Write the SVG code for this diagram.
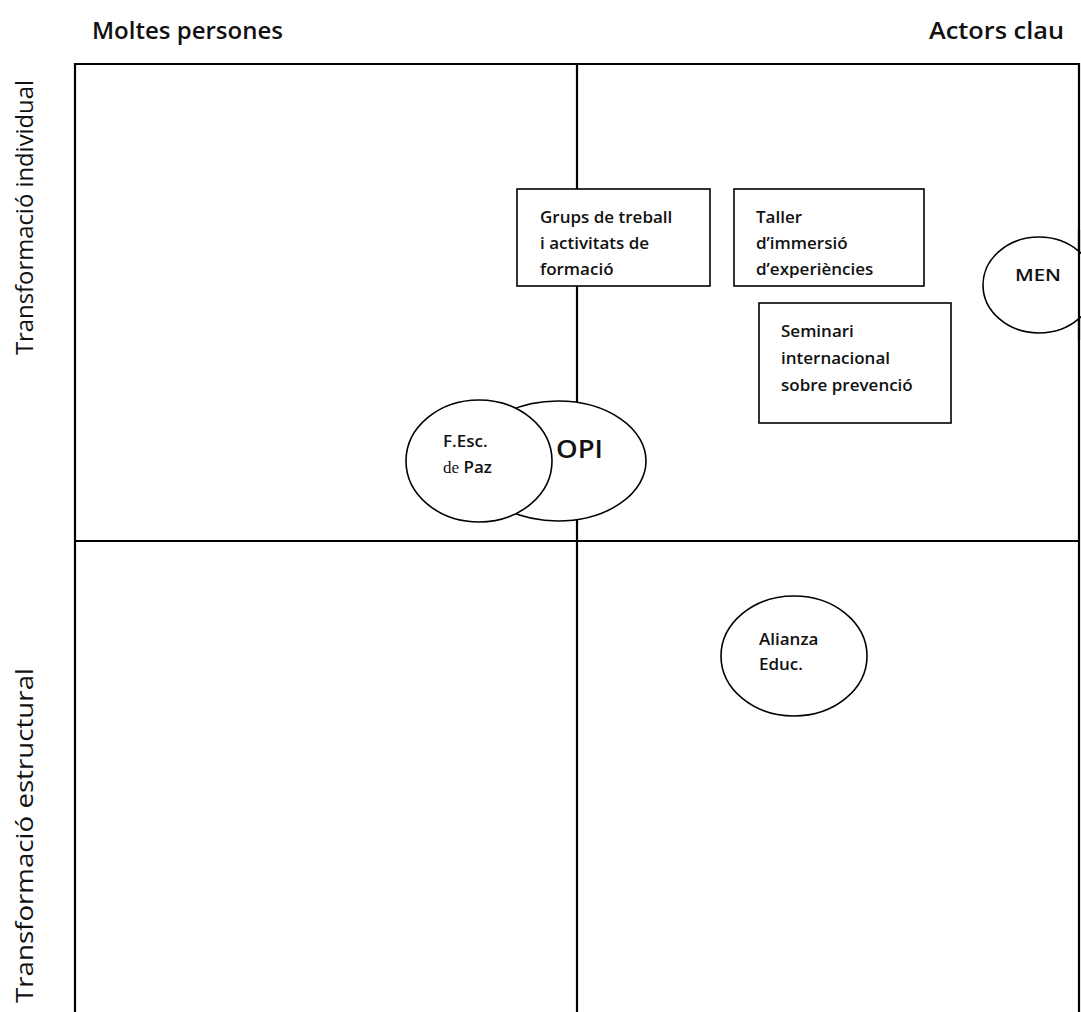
<svg xmlns="http://www.w3.org/2000/svg" width="1081" height="1012" viewBox="0 0 1081 1012">
<style>
  text { font-family: "Open Sans", "Liberation Sans", sans-serif; fill: #111; }
  .hdr { font-size: 23px; font-weight: 600; }
  .side { font-size: 23px; }
  .lbl { font-size: 17px; font-weight: 600; }
  .box { fill: #fff; stroke: #000; stroke-width: 1.6; }
  .ell { fill: #fff; stroke: #000; stroke-width: 1.6; }
  .axis { fill: none; stroke: #000; stroke-width: 2.2; }
  .serif { font-family: "Liberation Serif", serif; font-weight: normal; }
</style>
<defs>
  <clipPath id="c1"><rect x="517" y="189" width="193" height="89"/></clipPath>
  <clipPath id="c2"><rect x="734" y="189" width="190" height="89"/></clipPath>
  <clipPath id="c3"><rect x="759" y="303" width="192" height="118"/></clipPath>
</defs>
<rect width="1081" height="1012" fill="#fff"/>

<g id="headers">
  <text class="hdr" x="92" y="39" textLength="191" lengthAdjust="spacingAndGlyphs">Moltes persones</text>
  <text class="hdr" x="929" y="39" textLength="135" lengthAdjust="spacingAndGlyphs">Actors clau</text>
  <text class="side" transform="translate(33,217.5) rotate(-90)" text-anchor="middle" textLength="275" lengthAdjust="spacingAndGlyphs">Transformació individual</text>
  <text class="side" transform="translate(33,835.5) rotate(-90)" text-anchor="middle" textLength="335" lengthAdjust="spacingAndGlyphs">Transformació estructural</text>
</g>

<g id="connectors">
  <path class="axis" d="M75,1020 V64 H1079 V1020"/>
  <line class="axis" x1="577" y1="64" x2="577" y2="1020"/>
  <line class="axis" x1="75" y1="541" x2="1079" y2="541"/>
</g>

<g id="box-grups">
  <rect class="box" x="517" y="189" width="193" height="97"/>
  <g clip-path="url(#c1)">
    <text class="lbl" x="540" y="223">Grups de treball</text>
    <text class="lbl" x="540" y="249">i activitats de</text>
    <text class="lbl" x="540" y="275">formació</text>
  </g>
</g>

<g id="box-taller">
  <rect class="box" x="734" y="189" width="190" height="97"/>
  <g clip-path="url(#c2)">
    <text class="lbl" x="756" y="223">Taller</text>
    <text class="lbl" x="756" y="249">d’immersió</text>
    <text class="lbl" x="756" y="275">d’experiències</text>
  </g>
</g>

<g id="box-seminari">
  <rect class="box" x="759" y="303" width="192" height="120"/>
  <g clip-path="url(#c3)">
    <text class="lbl" x="781" y="337">Seminari</text>
    <text class="lbl" x="781" y="364">internacional</text>
    <text class="lbl" x="781" y="391">sobre prevenció</text>
  </g>
</g>

<g id="node-opi">
  <ellipse class="ell" cx="558" cy="461" rx="88" ry="60"/>
  <text x="556" y="458" font-size="26" font-weight="600" textLength="47" lengthAdjust="spacingAndGlyphs">OPI</text>
</g>

<g id="node-fesc">
  <ellipse class="ell" cx="479" cy="461" rx="73" ry="61"/>
  <text class="lbl" x="443" y="447">F.Esc.</text>
  <text class="lbl" x="443" y="473"><tspan class="serif">de</tspan> Paz</text>
</g>

<g id="node-men">
  <ellipse class="ell" cx="1039" cy="285" rx="56" ry="48"/>
  <line class="axis" x1="1079" y1="230" x2="1079" y2="340"/>
  <text class="lbl" x="1015" y="281" textLength="46" lengthAdjust="spacingAndGlyphs">MEN</text>
</g>

<g id="node-alianza">
  <ellipse class="ell" cx="794" cy="656" rx="73" ry="60"/>
  <text class="lbl" x="759" y="645">Alianza</text>
  <text class="lbl" x="759" y="670">Educ.</text>
</g>
</svg>
